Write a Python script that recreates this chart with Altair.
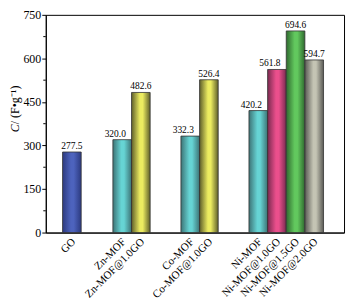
import altair as alt
import pandas as pd

categories = ["GO", "Zn-MOF", "Zn-MOF@1.0GO", "Co-MOF", "Co-MOF@1.0GO",
              "Ni-MOF", "Ni-MOF@1.0GO", "Ni-MOF@1.5GO", "Ni-MOF@2.0GO"]
values = [277.5, 320.0, 482.6, 332.3, 526.4, 420.2, 561.8, 694.6, 594.7]
positions = [1.4, 4.1, 5.1, 7.75, 8.75, 11.4, 12.4, 13.4, 14.4]
fill_keys = ["blue", "cyan", "yellow", "cyan", "yellow", "cyan", "magenta", "green", "gray"]
y_ticks = [0, 150, 300, 450, 600, 750]
y_minor = [75, 225, 375, 525, 675]
# bars whose value label sits shifted left (next to a taller neighbour)
shifted = ["Zn-MOF", "Co-MOF", "Ni-MOF", "Ni-MOF@1.0GO"]

palette = {
    "blue": ("#2c3a80", "#4d63bd"),
    "cyan": ("#3d7476", "#66d4d4"),
    "yellow": ("#5f5f2a", "#ecec60"),
    "magenta": ("#7a2a50", "#ea4f8c"),
    "green": ("#2f6a2f", "#62c85e"),
    "gray": ("#5a5a55", "#c4c4b4"),
}

df = pd.DataFrame({"cat": categories, "val": values, "pos": positions, "fk": fill_keys})
df["x0"] = df["pos"] - 0.5
df["x1"] = df["pos"] + 0.5
df["zero"] = 0.0

FONT = "Liberation Serif"

xscale = alt.Scale(domain=[0, 16], nice=False, zero=False)
yscale = alt.Scale(domain=[0, 750], nice=False)

xaxis = alt.Axis(labels=False, ticks=False, title=None)
yaxis = alt.Axis(values=y_ticks, title=None, tickSize=4, labelFontSize=12,
                 labelPadding=1, labelFont=FONT)

base = alt.Chart(df)

layers = []
for i, (k, (dark, light)) in enumerate(palette.items()):
    grad = alt.Gradient(
        gradient="linear", x1=0, x2=1, y1=0, y2=0,
        stops=[alt.GradientStop(offset=0, color=dark),
               alt.GradientStop(offset=0.45, color=light),
               alt.GradientStop(offset=0.6, color=light),
               alt.GradientStop(offset=1, color=dark)])
    if i == 0:
        xe = alt.X("x0:Q", scale=xscale, axis=xaxis)
        ye = alt.Y("val:Q", scale=yscale, axis=yaxis)
    else:
        xe = alt.X("x0:Q", scale=xscale)
        ye = alt.Y("val:Q", scale=yscale)
    layers.append(
        base.transform_filter(alt.datum.fk == k)
        .mark_bar(fill=grad, stroke="#333333", strokeWidth=0.8)
        .encode(x=xe, x2="x1:Q", y=ye, y2="zero:Q")
    )

val_enc = dict(
    x=alt.X("pos:Q", scale=xscale),
    y=alt.Y("val:Q", scale=yscale),
    text=alt.Text("val:Q", format=".1f"),
)
labels_c = base.transform_filter(
    ~alt.FieldOneOfPredicate(field="cat", oneOf=shifted)
).mark_text(font=FONT, fontSize=9.5, dy=-6, color="black").encode(**val_enc)
labels_l = base.transform_filter(
    alt.FieldOneOfPredicate(field="cat", oneOf=shifted)
).mark_text(font=FONT, fontSize=9.5, dy=-6, dx=-7, color="black").encode(**val_enc)

xlabels = base.mark_text(font=FONT, fontSize=11, angle=315, align="right",
                         baseline="middle", dx=-4, dy=7, color="black").encode(
    x=alt.X("pos:Q", scale=xscale),
    y=alt.Y("zero:Q", scale=yscale),
    text="cat:N",
)

minor = alt.Chart(pd.DataFrame({"m": y_minor})).mark_rule(color="black").encode(
    y=alt.Y("m:Q", scale=yscale),
    x=alt.value(-2.5), x2=alt.value(0),
)

title_c = alt.Chart(pd.DataFrame({"t": ["C"]})).mark_text(
    font=FONT, fontSize=12, fontStyle="italic", angle=270, align="right",
    baseline="middle", color="black").encode(
    text="t:N", x=alt.value(-31), y=alt.value(110))
title_rest = alt.Chart(pd.DataFrame({"t": [" / (F\u2022g\u207b\u00b9)"]})).mark_text(
    font=FONT, fontSize=12, angle=270, align="left",
    baseline="middle", color="black").encode(
    text="t:N", x=alt.value(-31), y=alt.value(110))

chart = alt.layer(*layers, labels_c, labels_l, xlabels, minor, title_c, title_rest).properties(
    width=300, height=219,
    autosize=alt.AutoSizeParams(type="none"),
    padding={"left": 38, "top": 6, "right": 5, "bottom": 75},
).configure(font=FONT).configure_axis(
    labelFont=FONT, labelColor="black", domainColor="black", tickColor="black",
    grid=False,
).configure_view(stroke="black", strokeWidth=1)

chart.save("out.html", embed_options={"renderer": "svg", "actions": False})
